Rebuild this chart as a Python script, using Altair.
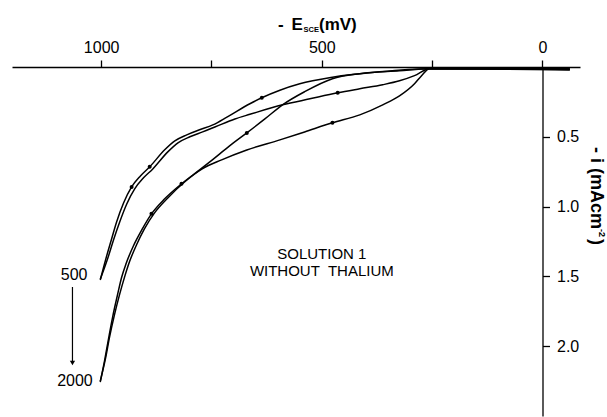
import altair as alt
import pandas as pd

# Polarisation curves (potential -E_SCE in mV, current density -i in mA/cm^2)
# Cycle 500: two sweeps
a1_mv = [1002, 990, 977, 965, 949, 931, 911, 890, 856, 833, 806, 777, 747, 714, 663, 636, 595, 550, 476, 369, 256, 142, -62]
a1_i = [1.526, 1.382, 1.239, 1.110, 0.973, 0.859, 0.780, 0.715, 0.593, 0.529, 0.486, 0.450, 0.415, 0.357, 0.263, 0.220, 0.166, 0.120, 0.073, 0.034, 0.012, 0.010, 0.012]
a2_mv = [1002, 985, 972, 958, 942, 924, 904, 883, 849, 826, 799, 770, 741, 697, 663, 589, 527, 464, 414, 362, 324, 290, 256, -62]
a2_i = [1.520, 1.370, 1.239, 1.110, 0.981, 0.873, 0.794, 0.730, 0.608, 0.543, 0.500, 0.465, 0.428, 0.372, 0.339, 0.271, 0.228, 0.185, 0.156, 0.127, 0.099, 0.062, 0.012, 0.018]
# Cycle 2000: two sweeps
b1_mv = [1002, 992, 983, 974, 963, 954, 943, 927, 908, 886, 856, 818, 777, 748, 709, 670, 629, 589, 539, 476, 414, 324, 256, -62]
b1_i = [2.257, 2.100, 1.942, 1.791, 1.633, 1.511, 1.404, 1.282, 1.167, 1.052, 0.944, 0.837, 0.737, 0.665, 0.565, 0.472, 0.372, 0.271, 0.177, 0.084, 0.048, 0.027, 0.012, 0.015]
b2_mv = [1002, 990, 981, 970, 958, 947, 936, 920, 902, 879, 849, 811, 771, 727, 670, 595, 539, 476, 414, 362, 324, 290, 274, 256, -62]
b2_i = [2.250, 2.086, 1.935, 1.777, 1.627, 1.505, 1.397, 1.275, 1.160, 1.045, 0.938, 0.824, 0.730, 0.665, 0.594, 0.522, 0.465, 0.400, 0.343, 0.271, 0.207, 0.120, 0.062, 0.012, 0.021]

# Sweep-direction markers
dot_mv = [636, 464, 670, 476, 890, 931, 818, 886]
dot_i = [0.220, 0.185, 0.472, 0.400, 0.715, 0.859, 0.837, 1.052]

x_ticks = [1000, 750, 500, 250, 0]
y_ticks = [0.5, 1.0, 1.5, 2.0]

rows = []
for name, xs, ys in [("a1", a1_mv, a1_i), ("a2", a2_mv, a2_i),
                     ("b1", b1_mv, b1_i), ("b2", b2_mv, b2_i)]:
    for k, (xv, yv) in enumerate(zip(xs, ys)):
        rows.append({"curve": name, "seq": k, "mv": xv, "i": yv})
curves = pd.DataFrame(rows)
dots = pd.DataFrame({"mv": dot_mv, "i": dot_i})

FONT = "Liberation Sans"

x_scale = alt.Scale(domain=[1202, -85], nice=False, zero=False)
y_scale = alt.Scale(domain=[0, 2.5], reverse=True, nice=False, zero=False)

x_axis = alt.Axis(orient="top", values=x_ticks, format="d",
                  labelExpr="datum.value % 500 == 0 ? datum.label : ''",
                  title=None, grid=False, tickSize=7, labelPadding=5,
                  labelFont=FONT, labelFontSize=16, labelColor="black",
                  domainColor="black", tickColor="black",
                  domainWidth=1.3, tickWidth=1.3)
y_axis = alt.Axis(orient="right", offset=-37.5, values=y_ticks, format=".1f",
                  title=None, grid=False, tickSize=7, labelPadding=7,
                  labelFont=FONT, labelFontSize=16, labelColor="black",
                  domainColor="black", tickColor="black",
                  domainWidth=1.3, tickWidth=1.3)


def xq(field="mv"):
    return alt.X(f"{field}:Q", scale=x_scale, axis=x_axis)


def yq(field="i"):
    return alt.Y(f"{field}:Q", scale=y_scale, axis=y_axis)


lines = alt.Chart(curves).mark_line(color="black", strokeWidth=1.5,
                                    interpolate="monotone").encode(
    x=xq(), y=yq(),
    detail="curve:N",
    order="seq:Q",
)

markers = alt.Chart(dots).mark_circle(color="black", size=16, opacity=1).encode(
    x=xq(), y=yq())

# Annotations in data space
notes = pd.DataFrame({
    "mv": [500, 500],
    "i": [1.34, 1.46],
    "txt": ["SOLUTION 1", "WITHOUT\u00a0 THALIUM"],
})
note_text = alt.Chart(notes).mark_text(font=FONT, fontSize=15, color="black",
                                       align="center", baseline="middle").encode(
    x=xq(), y=yq(), text="txt:N")

cycles = pd.DataFrame({"mv": [1031, 1019], "i": [1.49, 2.25], "txt": ["500", "2000"]})
cycle_text = alt.Chart(cycles).mark_text(font=FONT, fontSize=16, color="black",
                                         align="right", baseline="middle").encode(
    x=xq(), y=yq(), text="txt:N")

arrow = pd.DataFrame({"mv": [1065], "i": [1.576], "i2": [2.12]})
arrow_line = alt.Chart(arrow).mark_rule(color="black", strokeWidth=1.2).encode(
    x=xq(), y=yq(), y2="i2:Q")
arrow_head = alt.Chart(arrow).mark_point(shape="triangle-down", filled=True,
                                         color="black", size=28, opacity=1).encode(
    x=xq(), y=yq("i2"))


# Axis titles with sub/superscripts
def label(txt, x, y, size, angle=0, align="left", baseline="alphabetic"):
    kw = dict(font=FONT, fontSize=size, fontWeight="bold", color="black",
              align=align, baseline=baseline)
    if angle:
        kw["angle"] = angle
    return alt.Chart(pd.DataFrame({"t": [txt]})).mark_text(**kw).encode(
        x=alt.value(x), y=alt.value(y), text="t:N")


titles = [
    label("-", 266, -37, 17),
    label("E", 279.5, -37, 17),
    label("SCE", 291.5, -35.5, 7.5),
    label("(mV)", 307, -37, 17),
    label("- i (mAcm", 584, 80, 18, angle=90, baseline="middle"),
    label("-2", 589.5, 162, 9, angle=90, baseline="middle"),
    label(")", 584, 172, 18, angle=90, baseline="middle"),
]

chart = alt.layer(lines, markers, note_text, cycle_text, arrow_line, arrow_head,
                  *titles).properties(
    width=568, height=349,
    background="white",
    autosize=alt.AutoSizeParams(type="none"),
    padding={"left": 12, "top": 67, "right": 27, "bottom": 1},
).configure_view(strokeWidth=0, stroke=None)

chart.save("out.html", embed_options={"renderer": "svg", "actions": False})
